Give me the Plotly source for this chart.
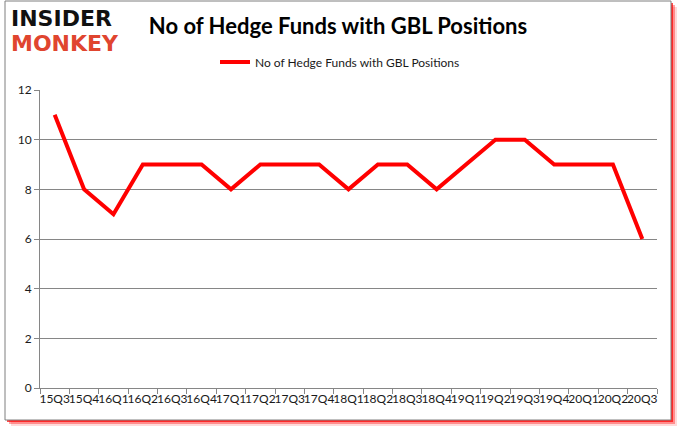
import plotly.graph_objects as go

quarters = ["15Q3", "15Q4", "16Q1", "16Q2", "16Q3", "16Q4", "17Q1", "17Q2", "17Q3", "17Q4",
            "18Q1", "18Q2", "18Q3", "18Q4", "19Q1", "19Q2", "19Q3", "19Q4", "20Q1", "20Q2", "20Q3"]
hedge_funds = [11, 8, 7, 9, 9, 9, 8, 9, 9, 9, 8, 9, 9, 8, 9, 10, 10, 9, 9, 9, 6]
series_name = "No of Hedge Funds with GBL Positions"
title_text = "No of Hedge Funds with GBL Positions"

W, H = 678, 431
L, R, T, B = 40, 21, 90, 43
pw, ph = W - L - R, H - T - B

def px(x):
    return (x - L) / pw

def py(y):
    return (H - B - y) / ph

fig = go.Figure()
fig.add_trace(go.Scatter(
    x=quarters, y=hedge_funds, mode="lines", name=series_name,
    line=dict(color="#FF0000", width=4),
))

shapes = []
# shadow
for off, op in [(6, 0.15), (4, 0.35), (2, 0.7)]:
    shapes.append(dict(type="rect", xref="paper", yref="paper", layer="below",
                       x0=px(5 + off), x1=px(671 + off), y0=py(420 + off), y1=py(1 + off),
                       fillcolor="rgba(255,0,0,%s)" % op, line=dict(width=0)))
shapes.append(dict(type="rect", xref="paper", yref="paper", layer="below",
                   x0=px(5), x1=px(671), y0=py(420), y1=py(1),
                   fillcolor="white", line=dict(color="#7F7F7F", width=1)))

annotations = [
    dict(text="<b>INSIDER</b>", xref="paper", yref="paper", x=px(9), y=py(19),
         xanchor="left", yanchor="middle", showarrow=False,
         font=dict(family="DejaVu Sans", size=22, color="#111111")),
    dict(text="<b>MONKEY</b>", xref="paper", yref="paper", x=px(9), y=py(43),
         xanchor="left", yanchor="middle", showarrow=False,
         font=dict(family="DejaVu Sans", size=22, color="#E0452F")),
]

fig.update_layout(
    width=W, height=H,
    margin=dict(l=L, r=R, t=T, b=B, autoexpand=False),
    paper_bgcolor="white",
    plot_bgcolor="rgba(0,0,0,0)",
    shapes=shapes,
    annotations=annotations,
    title=dict(text="<b>" + title_text + "</b>", x=338 / W, xanchor="center",
               y=1 - 26 / H, yanchor="middle", yref="container",
               font=dict(family="Lato", size=22, color="#000000")),
    showlegend=True,
    legend=dict(orientation="h", xref="container", yref="container",
                x=340 / W, xanchor="center", y=1 - 62 / H, yanchor="middle",
                font=dict(family="Lato", size=12, color="#1a1a1a"),
                bgcolor="rgba(0,0,0,0)"),
    xaxis=dict(
        type="category", tickangle=0, tickson="boundaries", automargin=False,
        showline=True, linecolor="#868686", linewidth=1,
        ticks="outside", ticklen=5, tickcolor="#868686",
        showgrid=False, zeroline=False,
        tickfont=dict(family="Lato", size=12, color="#1a1a1a"),
        range=[-0.5, len(quarters) - 0.5],
    ),
    yaxis=dict(
        range=[0, 12], dtick=2, tickmode="linear", automargin=False,
        showline=True, linecolor="#868686", linewidth=1,
        ticks="outside", ticklen=5, tickcolor="#868686",
        showgrid=True, gridcolor="#868686", gridwidth=1,
        zeroline=False,
        tickfont=dict(family="Lato", size=12, color="#1a1a1a"),
    ),
)

fig.write_html("out.html", config={"displayModeBar": False},
               post_script="document.body.style.margin='0';document.body.style.overflow='hidden';")
